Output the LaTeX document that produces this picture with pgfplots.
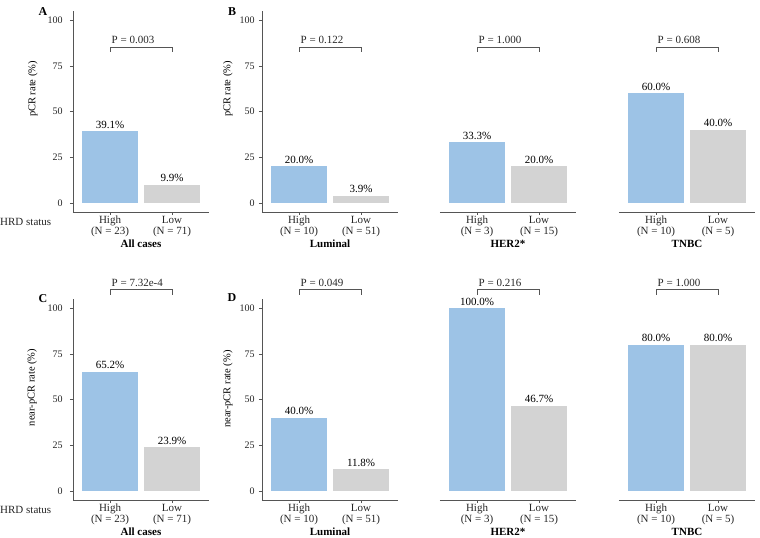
\documentclass[border=0pt]{standalone}
\usepackage{fontspec}
\setmainfont{Liberation Serif}
\usepackage{pgfplots}
\pgfplotsset{compat=1.18}
\definecolor{hiblue}{HTML}{9DC3E6}
\definecolor{logray}{HTML}{D3D3D3}
\definecolor{axgray}{HTML}{555555}
\definecolor{txgray}{HTML}{262626}

\newcommand{\fs}[1]{\fontsize{#1bp}{#1bp}\selectfont}

\pgfplotsset{
  panel/.style={
    scale only axis, width=136.4bp, height=201bp,
    anchor=south west,
    xmin=-0.6, xmax=1.6, ymin=-5, ymax=105,
    xtick={0,1},
    ytick={0,25,50,75,100},
    axis x line*=bottom, axis y line*=left,
    x axis line style={-}, y axis line style={-},
    axis line style={axgray, line width=0.6bp},
    tick style={axgray, line width=0.6bp},
    tick align=outside, major tick length=3bp,
    clip=false,
    /pgf/number format/assume math mode=true,
    yticklabel style={font=\fs{10}, text=txgray, inner sep=0pt, xshift=-4bp},
    xticklabel style={font=\fontsize{11bp}{11bp}\selectfont, text=txgray, align=center, inner sep=0pt, anchor=north, yshift=-1bp},
    xlabel style={font=\fs{11}\bfseries, at={(axis description cs:0.5,0)}, anchor=center, yshift=-32bp},
    ylabel style={font=\fs{10.5}, anchor=center},
    nodes near coords={\pgfmathprintnumber[fixed,fixed zerofill,precision=1]{\pgfplotspointmeta}\%},
    every node near coord/.append style={font=\fs{11}, anchor=base, inner sep=0pt, yshift=3bp, text=black},
  },
  noy/.style={axis y line=none, ytick=\empty},
  hib/.style={ybar, bar width=0.9, bar shift=0pt, fill=hiblue, draw=none},
  lob/.style={ybar, bar width=0.9, bar shift=0pt, fill=logray, draw=none},
}

\newcommand{\pbracket}[2]{%
  \draw[axgray, line width=0.6bp] ([yshift=-5bp]axis cs:0,#1) -- (axis cs:0,#1) -- (axis cs:1,#1) -- ([yshift=-5bp]axis cs:1,#1);
  \node[anchor=base west, inner sep=0pt, font=\fs{11}, text=txgray, xshift=1.5bp, yshift=3bp] at (axis cs:0,#1) {#2};
}

\begin{document}
\begin{tikzpicture}
\useasboundingbox (0,0) rectangle (760bp,538bp);

% ---------- Row 1 ----------
\begin{axis}[panel, at={(72.8bp,326bp)},
  yticklabel style={xshift=-3bp},
  xticklabels={{High\\(N = 23)},{Low\\(N = 71)}},
  xlabel={All cases}, ylabel={pCR rate (\%)},
  ylabel style={at={(axis description cs:-0.292,0.612)}}]
\addplot[hib] coordinates {(0,39.1)};
\addplot[lob] coordinates {(1,9.9)};
\pbracket{85.3}{P = 0.003}
\end{axis}

\begin{axis}[panel, at={(261.8bp,326bp)},
  xticklabels={{High\\(N = 10)},{Low\\(N = 51)}},
  xlabel={Luminal}, ylabel={pCR rate (\%)},
  ylabel style={at={(axis description cs:-0.248,0.612)}}]
\addplot[hib] coordinates {(0,20.0)};
\addplot[lob] coordinates {(1,3.9)};
\pbracket{85.3}{P = 0.122}
\end{axis}

\begin{axis}[panel, noy, at={(439.8bp,326bp)},
  xticklabels={{High\\(N = 3)},{Low\\(N = 15)}},
  xlabel={HER2*}]
\addplot[hib] coordinates {(0,33.3)};
\addplot[lob] coordinates {(1,20.0)};
\pbracket{85.3}{P = 1.000}
\end{axis}

\begin{axis}[panel, noy, at={(618.8bp,326bp)},
  xticklabels={{High\\(N = 10)},{Low\\(N = 5)}},
  xlabel={TNBC}]
\addplot[hib] coordinates {(0,60.0)};
\addplot[lob] coordinates {(1,40.0)};
\pbracket{85.3}{P = 0.608}
\end{axis}

% ---------- Row 2 ----------
\begin{axis}[panel, at={(72.8bp,38bp)},
  yticklabel style={xshift=-3bp},
  xticklabels={{High\\(N = 23)},{Low\\(N = 71)}},
  xlabel={All cases}, ylabel={near-pCR rate (\%)},
  ylabel style={at={(axis description cs:-0.299,0.56)}}]
\addplot[hib] coordinates {(0,65.2)};
\addplot[lob] coordinates {(1,23.9)};
\pbracket{110.1}{P = 7.32e-4}
\end{axis}

\begin{axis}[panel, at={(261.8bp,38bp)},
  xticklabels={{High\\(N = 10)},{Low\\(N = 51)}},
  xlabel={Luminal}, ylabel={near-pCR rate (\%)},
  ylabel style={at={(axis description cs:-0.248,0.552)}}]
\addplot[hib] coordinates {(0,40.0)};
\addplot[lob] coordinates {(1,11.8)};
\pbracket{110.1}{P = 0.049}
\end{axis}

\begin{axis}[panel, noy, at={(439.8bp,38bp)},
  xticklabels={{High\\(N = 3)},{Low\\(N = 15)}},
  xlabel={HER2*}]
\addplot[hib] coordinates {(0,100.0)};
\addplot[lob] coordinates {(1,46.7)};
\pbracket{110.1}{P = 0.216}
\end{axis}

\begin{axis}[panel, noy, at={(618.8bp,38bp)},
  xticklabels={{High\\(N = 10)},{Low\\(N = 5)}},
  xlabel={TNBC}]
\addplot[hib] coordinates {(0,80.0)};
\addplot[lob] coordinates {(1,80.0)};
\pbracket{110.1}{P = 1.000}
\end{axis}

% ---------- Panel letters and row labels ----------
\node[font=\fs{12}\bfseries] at (43bp,526bp) {A};
\node[font=\fs{12}\bfseries] at (232bp,526bp) {B};
\node[font=\fs{12}\bfseries] at (43bp,239bp) {C};
\node[font=\fs{12}\bfseries] at (232bp,240bp) {D};
\node[font=\fs{11}, text=txgray, anchor=west, inner sep=0pt] at (0bp,316bp) {HRD status};
\node[font=\fs{11}, text=txgray, anchor=west, inner sep=0pt] at (0bp,28.5bp) {HRD status};
\end{tikzpicture}
\end{document}
